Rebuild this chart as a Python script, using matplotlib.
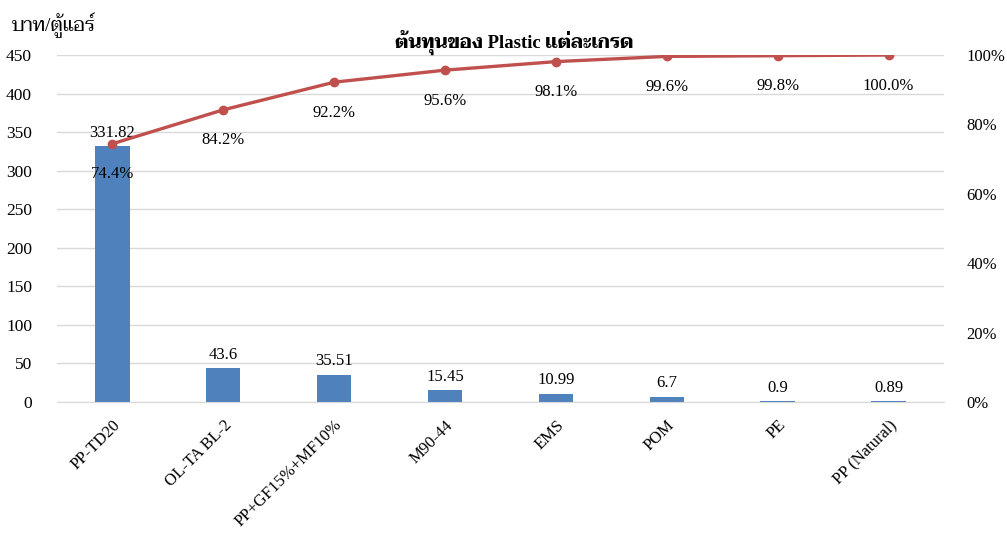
import matplotlib

matplotlib.use("Agg")
import matplotlib.pyplot as plt
import numpy as np
from matplotlib.ticker import FuncFormatter, MultipleLocator

# Plastic grades and cost per air-con unit (baht)
grades = ["PP-TD20", "OL-TA BL-2", "PP+GF15%+MF10%", "M90-44", "EMS", "POM", "PE", "PP (Natural)"]
cost = [331.82, 43.6, 35.51, 15.45, 10.99, 6.7, 0.9, 0.89]
cost_labels = ["331.82", "43.6", "35.51", "15.45", "10.99", "6.7", "0.9", "0.89"]

title = "ต้นทุนของ Plastic แต่ละเกรด"
ylabel = "บาท/ตู้แอร์"

FONT = ["Liberation Serif", "Taviraj", "DejaVu Sans"]
plt.rcParams["font.family"] = FONT
plt.rcParams["font.size"] = 12

BLUE = "#4F81BD"
RED = "#C0504D"
GRID = "#D9D9D9"

cum_pct = np.cumsum(cost) / np.sum(cost)
x = np.arange(len(grades))

fig = plt.figure(figsize=(10.07, 5.33), dpi=100)
ax = fig.add_axes([0.0566, 0.2458, 0.8808, 0.651])
ax2 = ax.twinx()

ax.bar(x, cost, width=0.31, color=BLUE, zorder=2)
for xi, v, lab in zip(x, cost, cost_labels):
    ax.annotate(lab, (xi, v), xytext=(0, 4), textcoords="offset points",
                ha="center", va="bottom", fontsize=12)

ax.set_xlim(-0.5, len(grades) - 0.5)
ax.set_ylim(0, 450)
ax.yaxis.set_major_locator(MultipleLocator(50))
ax.grid(axis="y", color=GRID, linewidth=1, zorder=0)
ax.set_axisbelow(True)
ax.set_xticks(x)
ax.set_xticklabels(grades, rotation=45, ha="right", rotation_mode="anchor")
ax.tick_params(axis="y", length=0, labelsize=12.5, pad=18)
ax.tick_params(axis="x", length=0, labelsize=12, pad=11)
for s in ax.spines.values():
    s.set_visible(False)
ax.spines["bottom"].set_visible(True)
ax.spines["bottom"].set_color(GRID)

ax2.plot(x, cum_pct, color=RED, linewidth=2.4, marker="o", markersize=6, zorder=3)
for xi, p in zip(x, cum_pct):
    ax2.annotate(f"{p * 100:.1f}%", (xi, p), xytext=(0, -22), textcoords="offset points",
                 ha="center", va="center", fontsize=12)
ax2.set_ylim(0, 1)
ax2.yaxis.set_major_locator(MultipleLocator(0.2))
ax2.yaxis.set_major_formatter(FuncFormatter(lambda v, _: f"{v * 100:.0f}%"))
ax2.tick_params(axis="y", length=0, labelsize=12, pad=16)
for s in ax2.spines.values():
    s.set_visible(False)

fig.text(0.5105, 0.921, title, ha="center", va="center", fontsize=13.5, fontweight="bold")
fig.text(0.012, 0.953, ylabel, ha="left", va="center", fontsize=14)

fig.savefig("out.png", dpi=100)
